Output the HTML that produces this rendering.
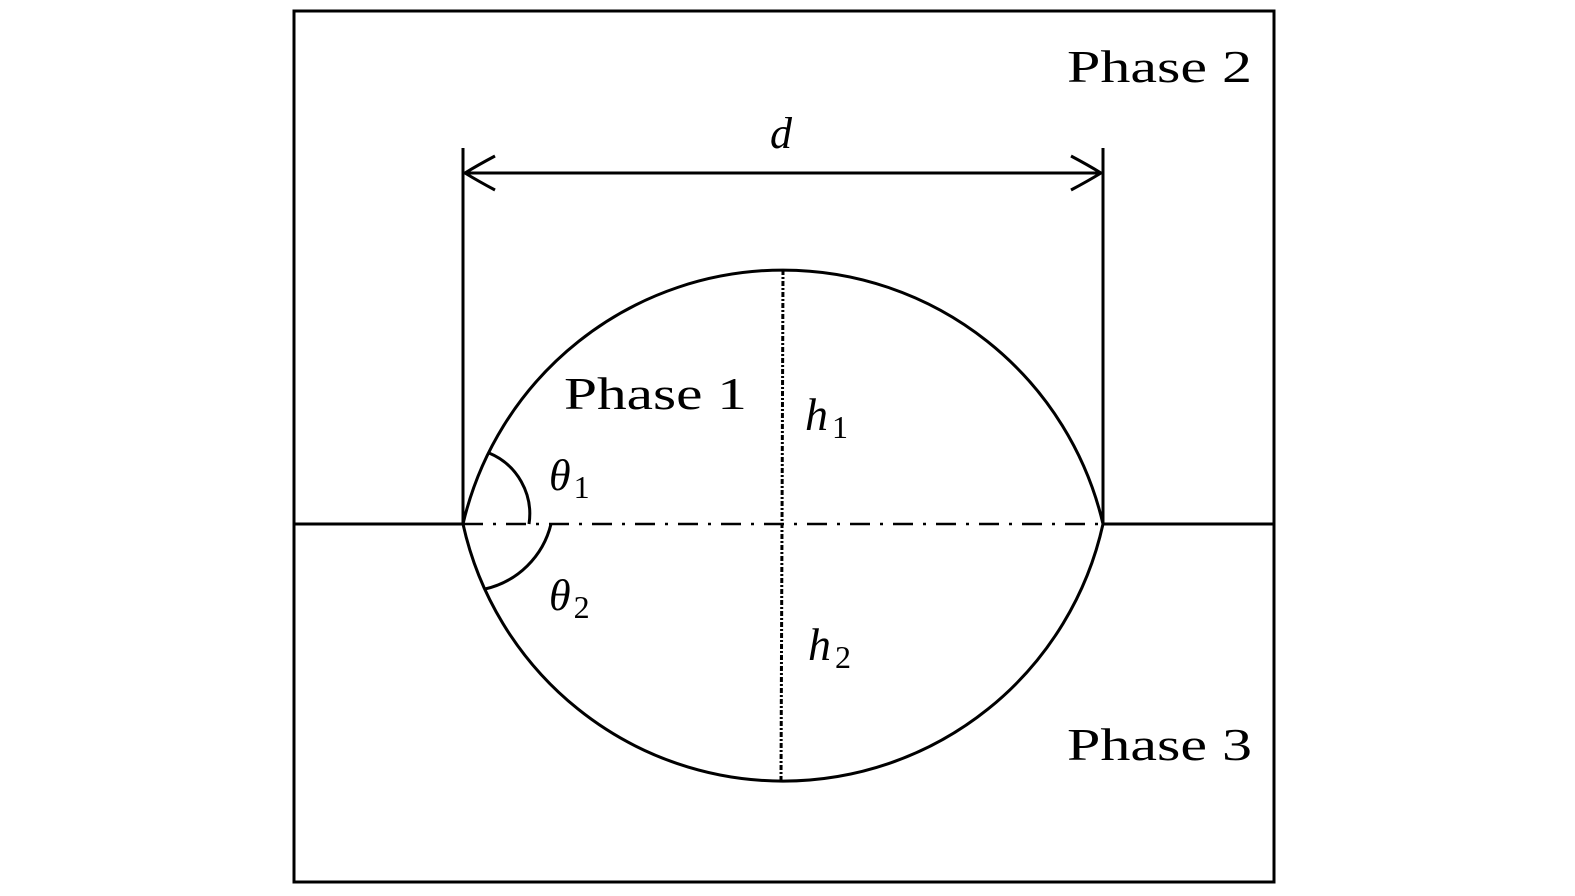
<!DOCTYPE html>
<html><head><meta charset="utf-8"><style>
html,body{margin:0;padding:0;background:#fff;}
svg{display:block;}
text{font-family:"Liberation Serif",serif;fill:#000;}
</style></head><body>
<svg width="1575" height="896" viewBox="0 0 1575 896" xmlns="http://www.w3.org/2000/svg">
<g fill="none" stroke="#000" stroke-width="3">
<rect x="294" y="11" width="980" height="871"/>
<line x1="294" y1="524" x2="463" y2="524"/>
<line x1="1103" y1="524" x2="1274" y2="524"/>
<line x1="463" y1="148" x2="463" y2="524"/>
<line x1="1103" y1="148" x2="1103" y2="524"/>
<line x1="463" y1="173" x2="1103" y2="173"/>
<path d="M495 156 Q478 165 465 173 Q478 181 495 190"/>
<path d="M1071 156 Q1088 165 1101 173 Q1088 181 1071 190"/>
<path d="M463 524 A328.6 328.6 0 0 1 1103 524"/>
<path d="M463 524 A327.7 327.7 0 0 0 1103 524"/>
<path d="M529 524 A66 66 0 0 0 489 453"/>
<path d="M551 524 A88 88 0 0 1 485 589"/>
</g>
<g fill="none" stroke="#000">
<line x1="463" y1="524" x2="1103" y2="524" stroke-width="2.5" stroke-dasharray="20 10 3 10"/>
<line x1="783" y1="270" x2="781" y2="781" stroke-width="3" stroke-dasharray="5 2 2 2"/>
</g>
<text x="1067" y="82" font-size="46" textLength="185" lengthAdjust="spacingAndGlyphs">Phase 2</text>
<text x="1067" y="760" font-size="46" textLength="185" lengthAdjust="spacingAndGlyphs">Phase 3</text>
<text x="564" y="409" font-size="46" textLength="183" lengthAdjust="spacingAndGlyphs">Phase 1</text>
<text x="770" y="148" font-size="44" font-style="italic">d</text>
<text x="805" y="430" font-size="46" font-style="italic">h<tspan font-size="32" font-style="normal" dx="4" dy="8">1</tspan></text>
<text x="808" y="660" font-size="46" font-style="italic">h<tspan font-size="32" font-style="normal" dx="4" dy="8">2</tspan></text>
<text x="549" y="490" font-size="44" font-style="italic">θ<tspan font-size="32" font-style="normal" dx="3" dy="8">1</tspan></text>
<text x="549" y="610" font-size="44" font-style="italic">θ<tspan font-size="32" font-style="normal" dx="3" dy="8">2</tspan></text>
</svg>
</body></html>
